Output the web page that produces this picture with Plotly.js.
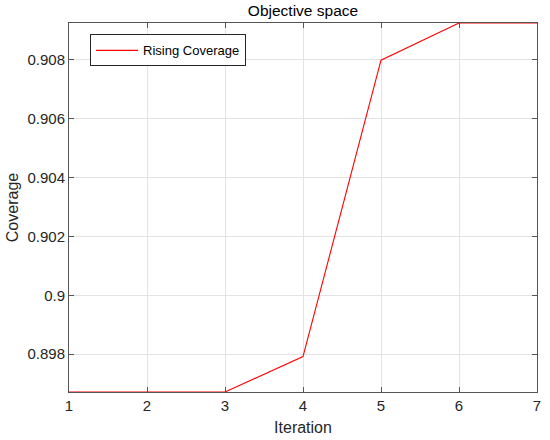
<!DOCTYPE html>
<html>
<head>
<meta charset="utf-8">
<script src="https://cdn.plot.ly/plotly-3.0.1.min.js"></script>
<style>html,body{margin:0;padding:0;background:#fff;}#chart{width:550px;height:440px;}</style>
</head>
<body>
<div id="chart"></div>
<script>
const iterations = [1, 2, 3, 4, 5, 6, 7];
const coverage = [0.89672, 0.89672, 0.89672, 0.89792, 0.90797, 0.90923, 0.90923];
const xTicks = [1, 2, 3, 4, 5, 6, 7];
const yTickVals = [0.898, 0.900, 0.902, 0.904, 0.906, 0.908];
const yTickText = ['0.898', '0.9', '0.902', '0.904', '0.906', '0.908'];
const seriesName = 'Rising Coverage';

const fontFam = 'Liberation Sans, Arial, sans-serif';
const axisCommon = {
  showline: true, mirror: 'ticks', linecolor: '#555', linewidth: 1,
  ticks: 'inside', ticklen: 5, tickcolor: '#555', tickwidth: 1,
  showgrid: true, gridcolor: '#e3e3e3', gridwidth: 1, layer: 'below traces',
  zeroline: false, tickfont: {family: fontFam, size: 15, color: '#262626'}
};

Plotly.newPlot('chart', [{
  x: iterations, y: coverage, type: 'scatter', mode: 'lines', cliponaxis: false,
  name: seriesName, line: {color: '#ff0000', width: 1.1}
}], {
  width: 550, height: 440,
  margin: {l: 69, r: 13, t: 22.5, b: 48},
  paper_bgcolor: '#fff', plot_bgcolor: '#fff',
  font: {family: fontFam, color: '#262626'},
  title: {text: 'Objective space', font: {family: fontFam, size: 15.5, color: '#000'},
          x: 0.5, xref: 'paper', y: 1 - 11/440, yref: 'container', yanchor: 'middle'},
  showlegend: true,
  legend: {x: 0.045, y: 0.969, xanchor: 'left', yanchor: 'top', itemwidth: 42,
           bgcolor: '#fff', bordercolor: '#262626', borderwidth: 1,
           font: {family: fontFam, size: 13, color: '#000'}},
  xaxis: Object.assign({}, axisCommon, {
    range: [1, 7], tickvals: xTicks,
    title: {text: 'Iteration', font: {family: fontFam, size: 16, color: '#262626'}, standoff: 8}
  }),
  yaxis: Object.assign({}, axisCommon, {
    range: [0.89672, 0.90923], tickvals: yTickVals, ticktext: yTickText,
    title: {text: 'Coverage', font: {family: fontFam, size: 16, color: '#262626'}, standoff: 4}
  })
}, {displayModeBar: false, staticPlot: true});
</script>
</body>
</html>
